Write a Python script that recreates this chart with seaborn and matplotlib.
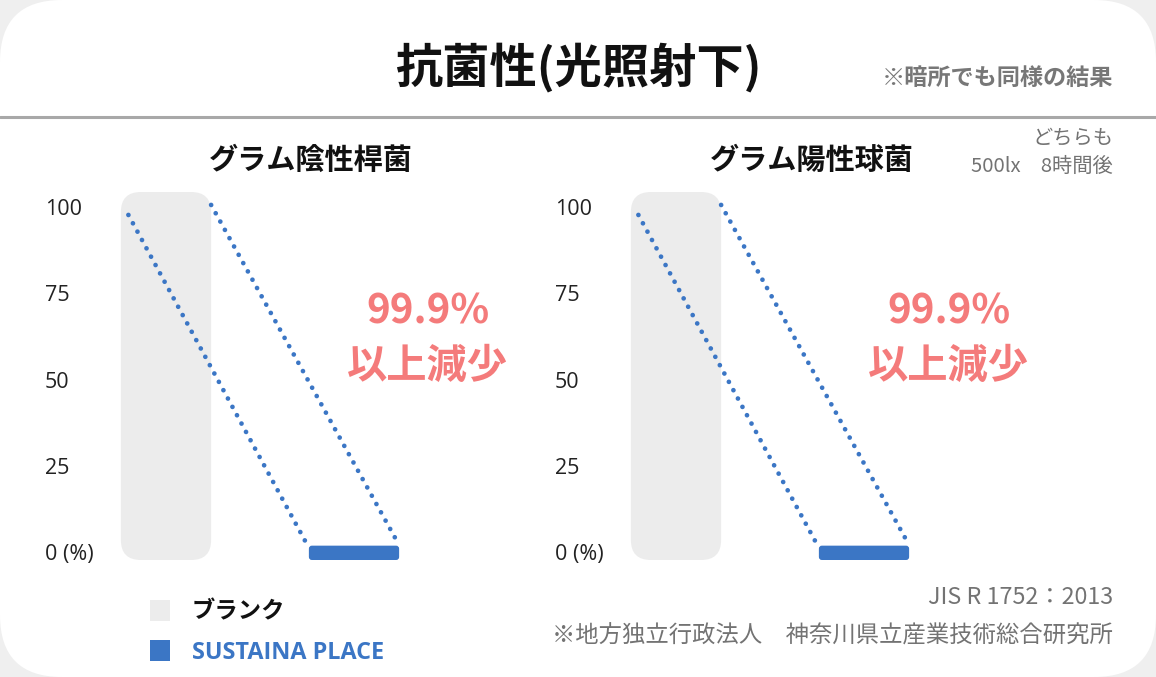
import numpy as np
import pandas as pd
import matplotlib
matplotlib.use("Agg")
import matplotlib.pyplot as plt
import seaborn as sns
from matplotlib.patches import FancyBboxPatch, Patch
from matplotlib.lines import Line2D
from matplotlib.transforms import IdentityTransform

# ---------------- data ----------------
title = "抗菌性(光照射下)"
note_dark = "※暗所でも同様の結果"
note_cond = ["どちらも", "500lx　8時間後"]
panels = ["グラム陰性桿菌", "グラム陽性球菌"]
samples = ["ブランク", "SUSTAINA PLACE"]
neg_values = [100, 0.1]
pos_values = [100, 0.1]
reduction_label = ["99.9%", "以上減少"]
yticks = [0, 25, 50, 75, 100]
ytick_labels = ["0 (%)", "25", "50", "75", "100"]
source = ["JIS R 1752：2013", "※地方独立行政法人　神奈川県立産業技術総合研究所"]

# ---------------- style ----------------
colors = ["#ececec", "#3b76c5"]
red = "#f47b7b"
gray_txt = "#737373"
W, H = 1156, 677

sns.set_theme(style="white")
plt.rcParams["font.family"] = ["Noto Sans CJK JP", "DejaVu Sans"]

fig = plt.figure(figsize=(W / 100, H / 100), dpi=100)
fig.patch.set_facecolor("#efefef")
card = FancyBboxPatch((0, 0), W, H, boxstyle="round,pad=0,rounding_size=62",
                      transform=IdentityTransform(), fc="white", ec="none", zorder=-10)
fig.add_artist(card)
fig.add_artist(Line2D([0, 1], [1 - 117 / H] * 2, transform=fig.transFigure,
                      color="#a8a8a8", lw=2.2))

fig.text(0.5, 1 - 68 / H, title, ha="center", va="center", fontsize=34,
         fontweight="bold", color="#111111")
fig.text(1113 / W, 1 - 78 / H, note_dark, ha="right", va="center", fontsize=16.7,
         fontweight="bold", color="#777777")
fig.text(1113 / W, 1 - 138 / H, note_cond[0], ha="right", va="center", fontsize=14.6,
         color=gray_txt)
fig.text(1113 / W, 1 - 166 / H, note_cond[1], ha="right", va="center", fontsize=14.6,
         color=gray_txt)
fig.text(1113 / W, 1 - 598 / H, source[0], ha="right", va="center", fontsize=16.8,
         color=gray_txt)
fig.text(1113 / W, 1 - 636 / H, source[1], ha="right", va="center", fontsize=16.8,
         color=gray_txt)


def px_axes(left, top, right, bottom):
    return fig.add_axes([left / W, 1 - bottom / H, (right - left) / W, (bottom - top) / H])


YLIM = (-5, 110)
XLIM = (-0.6, 1.6)
top = 172.5
bottom = 569.25
panel_specs = [
    dict(left=53.2, values=neg_values, tx=0.623, rx=0.906),
    dict(left=563.2, values=pos_values, tx=0.6016, rx=0.9316),
]
top_pads = [15, 6]
bottom_pad = 8
radii = [20, 3]

for name, spec in zip(panels, panel_specs):
    ax = px_axes(spec["left"], top, spec["left"] + 413.6, bottom)
    df = pd.DataFrame({"sample": samples, "value": spec["values"]})
    sns.barplot(data=df, x="sample", y="value", hue="sample", palette=colors,
                width=0.48, saturation=1, ax=ax, legend=False)
    ax.set_xlim(*XLIM)
    ax.set_ylim(*YLIM)
    ax.set_autoscale_on(False)
    ax.set_facecolor("none")
    sns.despine(ax=ax, left=True, bottom=True)
    ax.set_xticks([])
    ax.set_xlabel("")
    ax.set_ylabel("")
    ax.set_yticks(yticks, ytick_labels)
    ax.tick_params(axis="y", length=0, pad=6.2, labelsize=15.5, labelcolor="#222222")
    for t in ax.get_yticklabels():
        t.set_horizontalalignment("left")
        t.set_fontfamily(["Open Sans", "Noto Sans CJK JP"])

    bars = list(ax.patches)
    for p, tp, rad in zip(bars, top_pads, radii):
        x0, y0 = ax.transData.transform((p.get_x(), 0))
        x1, y1 = ax.transData.transform((p.get_x() + p.get_width(), p.get_height()))
        box = FancyBboxPatch((x0, y0 - bottom_pad), x1 - x0, (y1 + tp) - (y0 - bottom_pad),
                             boxstyle=f"round,pad=0,rounding_size={rad}",
                             transform=IdentityTransform(), fc=p.get_facecolor(),
                             ec="none", clip_on=False, zorder=2)
        ax.add_artist(box)
        p.set_visible(False)

    bl, bu = bars
    vb, vu = spec["values"]
    lines = [
        ([bl.get_x() + 0.04, bu.get_x()], [vb - 2.3, vu + 1.1]),
        ([bl.get_x() + bl.get_width(), bu.get_x() + bu.get_width()], [vb + 0.6, vu + 1.9]),
    ]
    for xs, ys in lines:
        ax.plot(xs, ys, color=colors[1], lw=3.4, linestyle=(0, (0.01, 2.0)),
                dash_capstyle="round", clip_on=False, zorder=3)

    ax.text(spec["tx"], (bottom - 160) / (bottom - top), name, transform=ax.transAxes,
            ha="center", va="center", fontsize=21, fontweight="bold", color="#111111")
    ax.text(spec["rx"], (bottom - 312) / (bottom - top), reduction_label[0],
            transform=ax.transAxes, ha="center", va="center", fontsize=29,
            fontweight="bold", color=red)
    ax.text(spec["rx"], (bottom - 366) / (bottom - top), reduction_label[1],
            transform=ax.transAxes, ha="center", va="center", fontsize=29,
            fontweight="bold", color=red)

handles = [Patch(fc=c, ec="none") for c in colors]
leg = fig.legend(handles=handles, labels=samples, loc="upper left",
                 bbox_to_anchor=(150 / W, 1 - 600 / H), frameon=False,
                 prop={"family": ["Open Sans", "Noto Sans CJK JP"], "weight": "bold", "size": 16.8},
                 handlelength=0.86, handleheight=1.0, handletextpad=0.94,
                 labelspacing=0.68, borderpad=0, borderaxespad=0)
texts = leg.get_texts()
texts[0].set_color("#111111")
texts[1].set_color(colors[1])

fig.savefig("out.png", dpi=100, facecolor=fig.get_facecolor())
